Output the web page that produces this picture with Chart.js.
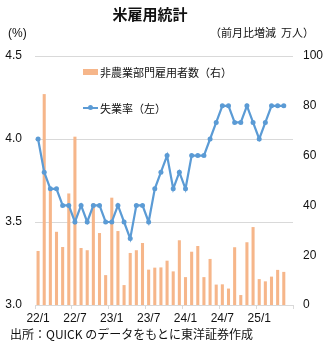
<!DOCTYPE html>
<html lang="ja">
<head>
    <meta charset="UTF-8">
    <title>米雇用統計</title>
    <script src="https://cdn.jsdelivr.net/npm/chart.js"></script>
    <style>
        body {
            margin: 0;
            padding: 0;
            background: #fff;
            font-family: 'Liberation Sans', 'Noto Sans CJK JP', sans-serif;
            color: #111;
        }
        .wrap {
            position: relative;
            width: 328px;
            height: 350px;
        }
        .txt {
            position: absolute;
            white-space: nowrap;
            line-height: 1;
        }
        #title {
            left: 0;
            width: 300px;
            top: 6px;
            text-align: center;
            font-size: 15px;
            font-weight: bold;
            font-family: 'Noto Sans CJK JP', sans-serif;
        }
        #unitLeft { left: 8px; top: 27px; font-size: 12px; }
        #unitRight { right: 14px; top: 27px; font-size: 11px; font-family: 'Noto Sans CJK JP', sans-serif; }
        .legend-item {
            position: absolute;
            left: 83px;
            font-size: 11px;
            font-family: 'Noto Sans CJK JP', sans-serif;
            white-space: nowrap;
            display: flex;
            align-items: center;
        }
        .legend-box {
            width: 15px;
            height: 6px;
            background: #F6B68A;
            margin-right: 2px;
        }
        .legend-line {
            position: relative;
            width: 15px;
            height: 2px;
            background: #5B9BD5;
            margin-right: 2px;
        }
        .legend-line::after {
            content: '';
            position: absolute;
            left: 5px;
            top: -2px;
            width: 5px;
            height: 5px;
            border-radius: 50%;
            background: #5B9BD5;
        }
        #source { left: 10px; top: 328px; font-size: 12px; font-family: 'Noto Sans CJK JP', sans-serif; }
    </style>
</head>
<body>
<div class="wrap">
    <canvas id="jobsChart"></canvas>
    <div class="txt" id="title">米雇用統計</div>
    <div class="txt" id="unitLeft">(%)</div>
    <div class="txt" id="unitRight">（前月比増減&nbsp;&nbsp;万人）</div>
    <div class="legend-item" style="top:64px;"><span class="legend-box"></span>非農業部門雇用者数（右）</div>
    <div class="legend-item" style="top:100px;"><span class="legend-line"></span>失業率（左）</div>
    <div class="txt" id="source">出所：QUICK のデータをもとに東洋証券作成</div>
</div>

<script>
    // months on the category axis (22/1 .. 25/6)
    var months = [
        '22/1', '22/2', '22/3', '22/4', '22/5', '22/6', '22/7', '22/8', '22/9', '22/10', '22/11', '22/12',
        '23/1', '23/2', '23/3', '23/4', '23/5', '23/6', '23/7', '23/8', '23/9', '23/10', '23/11', '23/12',
        '24/1', '24/2', '24/3', '24/4', '24/5', '24/6', '24/7', '24/8', '24/9', '24/10', '24/11', '24/12',
        '25/1', '25/2', '25/3', '25/4', '25/5', '25/6'
    ];
    var shownTicks = ['22/1', '22/7', '23/1', '23/7', '24/1', '24/7', '25/1'];

    // nonfarm payrolls, change from previous month (10k persons)
    var payrolls = [
        21.7, 84.7, 46.0, 29.4, 23.3, 44.8, 67.6, 22.9, 22.0, 40.8, 28.9, 12.0,
        43.1, 29.7, 8.0, 20.9, 22.0, 24.9, 14.2, 15.0, 15.1, 17.8, 13.5, 26.0,
        11.2, 21.4, 23.7, 11.2, 18.5, 8.2, 8.3, 6.6, 23.2, 4.0, 25.2, 31.3,
        10.4, 9.5, 11.4, 14.1, 13.3
    ];

    // unemployment rate (%)
    var unemployment = [
        4.0, 3.8, 3.7, 3.7, 3.6, 3.6, 3.5, 3.6, 3.5, 3.6, 3.6, 3.5,
        3.5, 3.6, 3.5, 3.4, 3.6, 3.6, 3.5, 3.7, 3.8, 3.9, 3.7, 3.8,
        3.7, 3.9, 3.9, 3.9, 4.0, 4.1, 4.2, 4.2, 4.1, 4.1, 4.2, 4.1,
        4.0, 4.1, 4.2, 4.2, 4.2
    ];

    Chart.defaults.font.family = "'Liberation Sans', 'Noto Sans CJK JP', sans-serif";
    Chart.defaults.font.size = 12;
    Chart.defaults.color = '#111';

    var gridGrey = '#D9D9D9';

    var ctx = document.getElementById('jobsChart').getContext('2d');
    var jobsChart = new Chart(ctx, {
        type: 'bar',
        data: {
            labels: months,
            datasets: [{
                type: 'line',
                label: '失業率（左）',
                data: unemployment,
                yAxisID: 'y',
                borderColor: '#5B9BD5',
                backgroundColor: '#5B9BD5',
                borderWidth: 2.2,
                pointRadius: 2.5,
                pointBackgroundColor: '#5B9BD5',
                pointBorderWidth: 0,
                tension: 0,
                order: 0
            }, {
                type: 'bar',
                label: '非農業部門雇用者数（右）',
                data: payrolls,
                yAxisID: 'y1',
                backgroundColor: '#F6B68A',
                categoryPercentage: 1.0,
                barPercentage: 0.5,
                order: 1
            }]
        },
        options: {
            responsive: true,
            maintainAspectRatio: false,
            animation: false,
            layout: {
                padding: { top: 56, bottom: 23, left: 0, right: 0 }
            },
            plugins: {
                legend: { display: false },
                tooltip: { enabled: false }
            },
            scales: {
                x: {
                    offset: true,
                    grid: {
                        offset: true,
                        drawOnChartArea: false,
                        tickLength: 4,
                        color: function (c) {
                            if (c.type !== 'tick') return gridGrey;
                            return c.index % 6 === 0 ? gridGrey : 'rgba(0,0,0,0)';
                        }
                    },
                    border: { color: gridGrey },
                    ticks: {
                        autoSkip: false,
                        maxRotation: 0,
                        padding: 2,
                        callback: function (v, i) {
                            var l = months[i];
                            return shownTicks.indexOf(l) >= 0 ? l : '';
                        }
                    },
                    afterFit: function (s) { s.height = 22; }
                },
                y: {
                    position: 'left',
                    min: 3.0,
                    max: 4.5,
                    ticks: {
                        stepSize: 0.5,
                        padding: 13,
                        callback: function (v) { return v.toFixed(1); }
                    },
                    grid: { color: gridGrey, drawTicks: false },
                    border: { display: false },
                    afterFit: function (s) { s.width = 35; }
                },
                y1: {
                    position: 'right',
                    min: 0,
                    max: 100,
                    ticks: { stepSize: 20, padding: 10 },
                    grid: { display: false, drawTicks: false },
                    border: { display: false },
                    afterFit: function (s) { s.width = 35; }
                }
            }
        }
    });
</script>
</body>
</html>
